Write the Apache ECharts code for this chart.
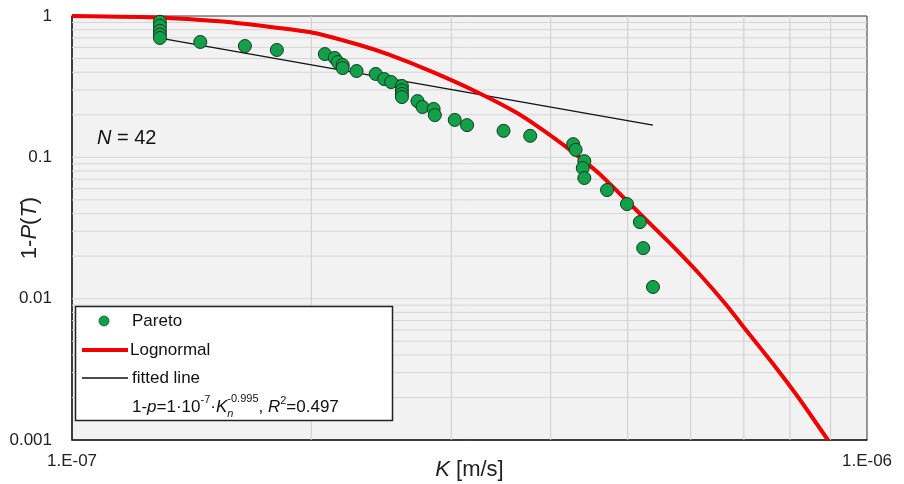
<!DOCTYPE html>
<html><head><meta charset="utf-8">
<script src="https://cdn.jsdelivr.net/npm/echarts@6/dist/echarts.min.js"></script>
<style>html,body{margin:0;padding:0;background:#fff}#c{width:904px;height:484px}</style>
</head><body><div id="c"></div>
<script>
// Pareto empirical points (K [m/s], 1-P(T))
const paretoK = [1.29e-7,1.29e-7,1.29e-7,1.29e-7,1.29e-7,
  1.45e-7,1.65e-7,1.81e-7,2.08e-7,2.14e-7,2.16e-7,2.19e-7,2.19e-7,2.28e-7,2.41e-7,2.47e-7,2.52e-7,
  2.60e-7,2.60e-7,2.60e-7,2.60e-7,2.72e-7,2.76e-7,2.85e-7,2.86e-7,3.03e-7,3.14e-7,3.49e-7,3.77e-7,
  4.27e-7,4.30e-7,4.41e-7,4.39e-7,4.41e-7,4.71e-7,4.99e-7,5.18e-7,5.23e-7,5.38e-7];
const paretoP = [0.911,0.852,0.787,0.740,0.699,
  0.655,0.613,0.575,0.538,0.505,0.472,0.450,0.428,0.408,0.389,0.358,0.341,
  0.320,0.298,0.281,0.267,0.250,0.227,0.220,0.199,0.184,0.169,0.154,0.142,
  0.124,0.113,0.094,0.084,0.0714,0.0587,0.0467,0.0348,0.0228,0.0121];
// Lognormal curve
const lognormK = [1.0e-7,1.29e-7,1.57e-7,1.99e-7,2.30e-7,2.51e-7,2.84e-7,3.23e-7,3.63e-7,3.88e-7,4.23e-7,4.61e-7,5.08e-7,5.65e-7,6.17e-7,6.67e-7,7.06e-7,7.62e-7,8.24e-7,8.93e-7];
const lognormP = [1.0,0.976,0.907,0.770,0.623,0.530,0.402,0.290,0.206,0.161,0.113,0.0762,0.0445,0.0247,0.0147,0.00887,0.00590,0.00345,0.00192,0.001];
// fitted line
const fitK = [1.29e-7, 5.38e-7];
const fitP = [0.698, 0.169];
// ticks / grid
const xTickLabels = {'-7':'1.E-07','-6':'1.E-06'};
const yTickLabels = {'0':'1','-1':'0.1','-2':'0.01','-3':'0.001'};
const xGridVals = [2e-7,3e-7,4e-7,5e-7,6e-7,7e-7,8e-7,9e-7];
const yGridVals = [0.002,0.003,0.004,0.005,0.006,0.007,0.008,0.009,0.01,
  0.02,0.03,0.04,0.05,0.06,0.07,0.08,0.09,0.1,0.2,0.3,0.4,0.5,0.6,0.7,0.8,0.9];
const xMin = 1e-7, xMax = 1e-6, yMin = 0.001, yMax = 1;

const FF = '"Liberation Sans", Arial, sans-serif';
const chart = echarts.init(document.getElementById('c'), null, {renderer:'canvas'});

function expKey(v){ const e = Math.log10(v); const r = Math.round(e); return Math.abs(e-r)<1e-6 ? String(r) : null; }

// formula layout via measureText
const cv = document.createElement('canvas').getContext('2d');
function w(t, size, italic){ cv.font = (italic?'italic ':'') + size + 'px ' + FF; return cv.measureText(t).width; }
const BS = 17, SS = 11;
const segs = [
  {t:'1-', s:BS}, {t:'p', s:BS, i:true}, {t:'=1·10', s:BS}, {t:'-7', s:SS, dy:-7}, {t:'·', s:BS},
  {t:'K', s:BS, i:true}, {t:'n', s:SS, i:true, dy:7, noAdv:true}, {t:'-0.995', s:SS, dy:-8},
  {t:', ', s:BS}, {t:'R', s:BS, i:true}, {t:'2', s:SS, dy:-6}, {t:'=0.497', s:BS}
];
let fx = 132; const fy = 407;
const formulaEls = [];
segs.forEach(sg => {
  formulaEls.push({type:'text', x:fx, y:fy + (sg.dy||0), z:110, silent:true,
    style:{text:sg.t, fontSize:sg.s, fontStyle:sg.i?'italic':'normal', fontFamily:FF, fill:'#111', verticalAlign:'middle', align:'left'}});
  if(!sg.noAdv) fx += w(sg.t, sg.s, sg.i);
});

// legend drawn as graphics
const legendRows = [321, 350, 378];
const legendEls = [
  {type:'rect', shape:{x:75.5, y:306.5, width:317, height:114}, z:100, silent:true, style:{fill:'#fff', stroke:'#222', lineWidth:1.5}},
  {type:'circle', shape:{cx:104, cy:legendRows[0], r:5}, z:110, silent:true, style:{fill:'#14a04a', stroke:'#0d5a2a', lineWidth:0.8}},
  {type:'line', shape:{x1:82, y1:legendRows[1], x2:128, y2:legendRows[1]}, z:110, silent:true, style:{stroke:'#f00000', lineWidth:4}},
  {type:'line', shape:{x1:82, y1:legendRows[2], x2:128, y2:legendRows[2]}, z:110, silent:true, style:{stroke:'#111', lineWidth:1.3}},
  {type:'text', x:132, y:legendRows[0], z:110, silent:true, style:{text:'Pareto', fontSize:17, fontFamily:FF, fill:'#111', verticalAlign:'middle'}},
  {type:'text', x:130, y:legendRows[1], z:110, silent:true, style:{text:'Lognormal', fontSize:17, fontFamily:FF, fill:'#111', verticalAlign:'middle'}},
  {type:'text', x:132, y:legendRows[2], z:110, silent:true, style:{text:'fitted line', fontSize:17, fontFamily:FF, fill:'#111', verticalAlign:'middle'}}
];

const gridSeries = xGridVals.map(v => ({type:'line', data:[[v,yMin],[v,yMax]], symbol:'none', silent:true, z:1,
    lineStyle:{color:'#cccccc', width:1}, tooltip:{show:false}}))
  .concat(yGridVals.map(v => ({type:'line', data:[[xMin,v],[xMax,v]], symbol:'none', silent:true, z:1,
    lineStyle:{color:'#d6d6d6', width:1}, tooltip:{show:false}})));

const option = {
  animation:false,
  backgroundColor:'#fff',
  grid:{left:72, right:37, top:16, bottom:44, containLabel:false, outerBoundsMode:'none',
    show:true, backgroundColor:'#f2f2f2', borderColor:'#333', borderWidth:1},
  xAxis:{type:'log', logBase:10, min:xMin, max:xMax,
    axisLine:{show:true, lineStyle:{color:'#222', width:1.5}}, axisTick:{show:false}, splitLine:{show:false},
    axisLabel:{fontSize:17, fontFamily:FF, color:'#222', margin:13, showMinLabel:true, showMaxLabel:true,
      formatter:v => { const k = expKey(v); return k && xTickLabels[k] ? xTickLabels[k] : ''; }},
    name:'{i|K} [m/s]', nameLocation:'middle', nameGap:19, nameMoveOverlap:false,
    nameTextStyle:{fontSize:22, fontFamily:FF, color:'#222', rich:{i:{fontSize:22, fontStyle:'italic', fontFamily:FF, color:'#222'}}}
  },
  yAxis:{type:'log', logBase:10, min:yMin, max:yMax,
    axisLine:{show:true, lineStyle:{color:'#222', width:1.5}}, axisTick:{show:false}, splitLine:{show:false},
    axisLabel:{fontSize:17, fontFamily:FF, color:'#222', margin:20,
      formatter:v => { const k = expKey(v); return k && yTickLabels[k] ? yTickLabels[k] : ''; }},
    name:'1-{i|P}({i|T})', nameLocation:'middle', nameGap:31, nameRotate:90, nameMoveOverlap:false,
    nameTextStyle:{fontSize:22, fontFamily:FF, color:'#222', rich:{i:{fontSize:22, fontStyle:'italic', fontFamily:FF, color:'#222'}}}
  },
  series: gridSeries.concat([
    {type:'line', name:'fitted line', data:fitK.map((k,i)=>[k,fitP[i]]), symbol:'none', z:3,
      lineStyle:{color:'#111', width:1.3}},
    {type:'line', name:'Lognormal', data:lognormK.map((k,i)=>[k,lognormP[i]]), symbol:'none', smooth:0.15, z:4,
      lineStyle:{color:'#f00000', width:4}},
    {type:'scatter', name:'Pareto', data:paretoK.map((k,i)=>[k,paretoP[i]]), symbol:'circle', symbolSize:13, z:5,
      itemStyle:{color:'#14a04a', borderColor:'#0d3b1e', borderWidth:1, opacity:1}}
  ]),
  graphic:[
    {type:'text', x:97, y:138, z:110, silent:true,
      style:{text:'{i|N} = 42', fontSize:20, fontFamily:FF, fill:'#111', verticalAlign:'middle',
        rich:{i:{fontSize:20, fontStyle:'italic', fontFamily:FF, fill:'#111'}}}}
  ].concat(legendEls, formulaEls)
};
chart.setOption(option);
</script></body></html>
